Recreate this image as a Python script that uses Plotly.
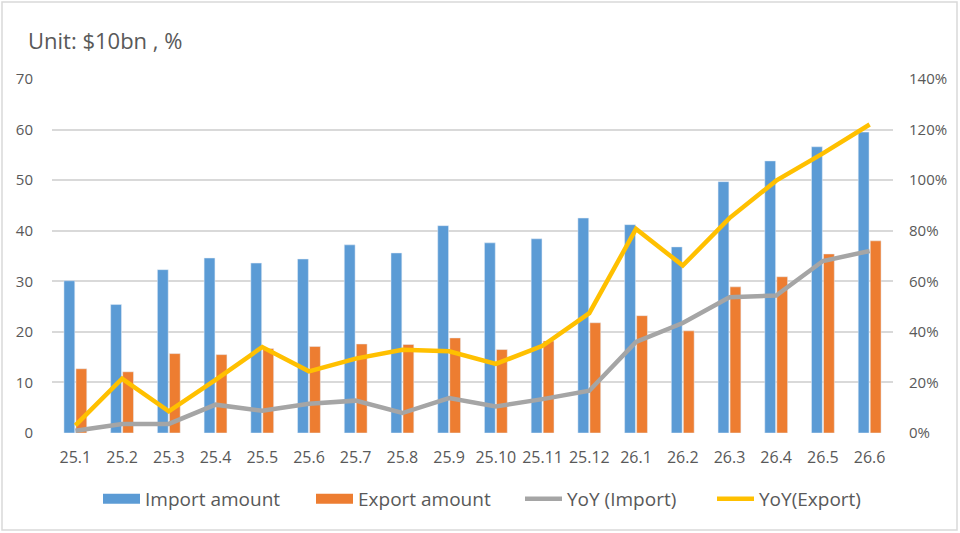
import plotly.graph_objects as go

months = ["25.1", "25.2", "25.3", "25.4", "25.5", "25.6", "25.7", "25.8", "25.9",
          "25.10", "25.11", "25.12", "26.1", "26.2", "26.3", "26.4", "26.5", "26.6"]
import_amount = [30.1, 25.4, 32.3, 34.6, 33.6, 34.4, 37.2, 35.6, 41.0,
                 37.6, 38.4, 42.5, 41.2, 36.8, 49.7, 53.8, 56.6, 59.5]
export_amount = [12.7, 12.1, 15.7, 15.5, 16.7, 17.1, 17.6, 17.5, 18.8,
                 16.5, 18.2, 21.8, 23.2, 20.2, 28.9, 30.9, 35.4, 38.0]
yoy_import = [0.9, 3.6, 3.6, 11.2, 8.8, 11.6, 12.8, 7.9, 13.8,
              10.5, 13.4, 16.7, 36.0, 43.5, 53.7, 54.4, 68.0, 72.0]
yoy_export = [3.0, 21.5, 8.6, 21.0, 34.0, 24.4, 29.4, 32.9, 32.3,
              27.3, 34.5, 47.4, 80.7, 66.2, 85.0, 99.8, 110.6, 122.0]

FONT = "Open Sans"
TXT = "#595959"
GRID = "#D9D9D9"
BLUE, ORANGE, GREY, YELLOW = "#5B9BD5", "#ED7D31", "#A5A5A5", "#FFC000"

# plot area in pixels (960x533 page)
L, R, T, B = 52, 67, 79, 100
W, H = 960 - L - R, 533 - T - B


def px_x(x):
    return (x - L) / W


def px_y(y):
    return (533 - B - y) / H


fig = go.Figure()
fig.add_trace(go.Bar(x=months, y=import_amount, name="Import amount",
                     marker_color=BLUE, showlegend=False))
fig.add_trace(go.Bar(x=months, y=export_amount, name="Export amount",
                     marker_color=ORANGE, showlegend=False))
fig.add_trace(go.Scatter(x=months, y=yoy_import, name="YoY (Import)", yaxis="y2",
                         mode="lines", line=dict(color=GREY, width=4.5),
                         legend="legend3"))
fig.add_trace(go.Scatter(x=months, y=yoy_export, name="YoY(Export)", yaxis="y2",
                         mode="lines", line=dict(color=YELLOW, width=4.5),
                         legend="legend4"))

# legend keys for the bars: wide flat swatches like the original
fig.add_trace(go.Scatter(x=[None], y=[None], name="Import amount", mode="lines",
                         line=dict(color=BLUE, width=10), legend="legend"))
fig.add_trace(go.Scatter(x=[None], y=[None], name="Export amount", mode="lines",
                         line=dict(color=ORANGE, width=10), legend="legend2"))


def leg(x):
    return dict(orientation="h", x=px_x(x), xanchor="left",
                y=px_y(499), yanchor="middle", itemwidth=37,
                font=dict(size=19, color=TXT, family=FONT),
                bgcolor="rgba(0,0,0,0)")


fig.update_layout(
    width=960, height=533,
    margin=dict(l=L, r=R, t=T, b=B),
    paper_bgcolor="white", plot_bgcolor="white",
    font=dict(family=FONT, color=TXT, size=15),
    bargap=0.486, bargroupgap=0.1,
    legend=leg(98), legend2=leg(311), legend3=leg(520), legend4=leg(712),
    xaxis=dict(type="category", showgrid=False, showline=False,
               ticks="outside", ticklen=10, tickcolor="rgba(0,0,0,0)",
               tickfont=dict(size=16, color=TXT)),
    yaxis=dict(range=[0, 70], dtick=10, showgrid=True, gridcolor=GRID,
               gridwidth=2, zeroline=False, showline=False,
               ticks="outside", ticklen=15, tickcolor="rgba(0,0,0,0)",
               tickfont=dict(size=15, color=TXT)),
    yaxis2=dict(range=[0, 140], dtick=20, overlaying="y", side="right",
                ticksuffix="%", showgrid=False, zeroline=False, showline=False,
                ticks="outside", ticklen=12, tickcolor="rgba(0,0,0,0)",
                tickfont=dict(size=15, color=TXT)),
    annotations=[dict(text="Unit: $10bn , %", xref="paper", yref="paper",
                      x=px_x(26), y=px_y(40), xanchor="left", yanchor="middle",
                      showarrow=False, font=dict(size=22, color=TXT, family=FONT))],
    shapes=[dict(type="rect", xref="paper", yref="paper",
                 x0=px_x(2), x1=px_x(957), y0=px_y(530), y1=px_y(2),
                 line=dict(color=GRID, width=1.5))],
)

fig.write_html("out.html", config={"displayModeBar": False},
               post_script="document.body.style.margin='0';")
